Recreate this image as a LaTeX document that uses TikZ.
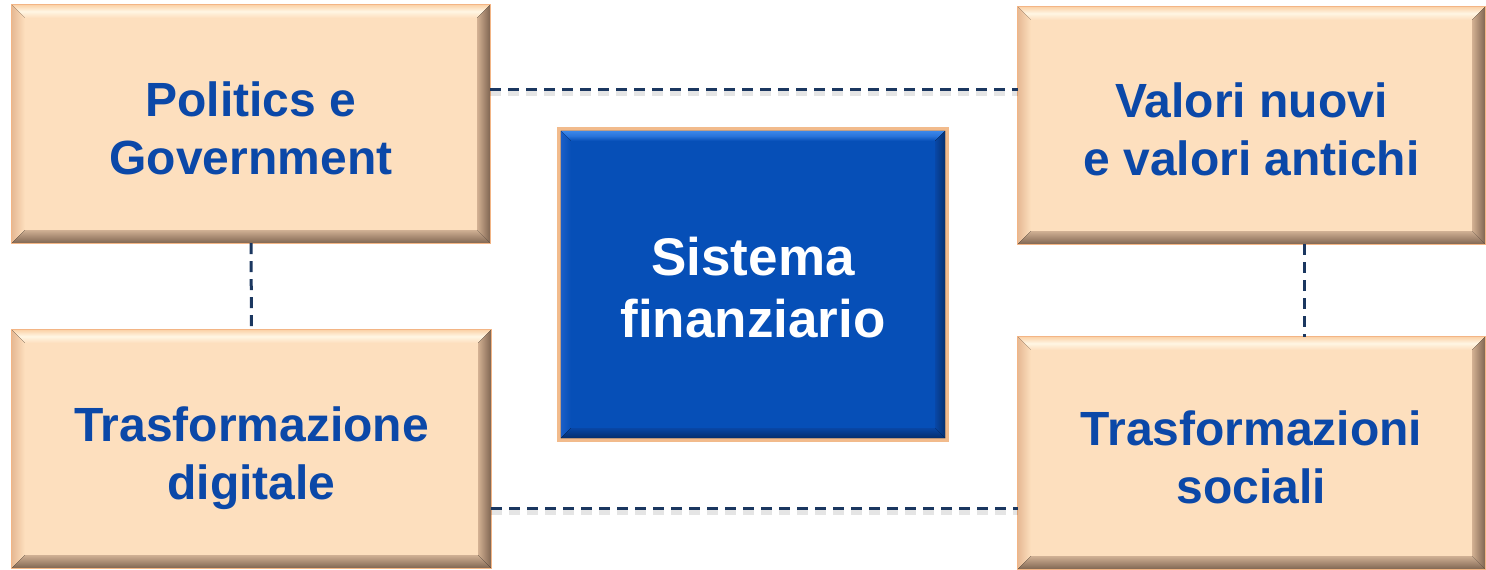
\documentclass[tikz,border=0pt]{standalone}
\usepackage{fontspec}
\setmainfont{Liberation Sans}
\usetikzlibrary{calc}

\definecolor{peachface}{HTML}{FDDFBE}
\definecolor{peachtop}{HTML}{FBD2A8}
\definecolor{peachshine}{HTML}{FFF6E4}
\definecolor{peachleft}{HTML}{E6B994}
\definecolor{peachright}{HTML}{7E6451}
\definecolor{peachrightin}{HTML}{D2B092}
\definecolor{peachbottom}{HTML}{806652}
\definecolor{peachbottomin}{HTML}{CFAF93}
\definecolor{peachedge}{HTML}{F3B585}
\definecolor{blueface}{HTML}{064FB7}
\definecolor{bluetop}{HTML}{3C88EA}
\definecolor{blueshine}{HTML}{2A74DA}
\definecolor{blueleft}{HTML}{1A5FC8}
\definecolor{blueright}{HTML}{06306F}
\definecolor{bluerightin}{HTML}{0847A6}
\definecolor{bluebottom}{HTML}{052E6C}
\definecolor{bluebottomin}{HTML}{0846A4}
\definecolor{blueedge}{HTML}{F2BB8C}
\definecolor{textblue}{HTML}{0B48A8}
\definecolor{linknavy}{HTML}{1B3760}

% bevel round a named node: node, width, colour set
\newcommand{\bevel}[3]{%
  \fill[top color=#3top, bottom color=#3face, middle color=#3shine]
    (#1.north west) -- (#1.north east) -- ([xshift=-#2,yshift=-#2]#1.north east) -- ([xshift=#2,yshift=-#2]#1.north west) -- cycle;
  \fill[left color=#3left, right color=#3face]
    (#1.north west) -- ([xshift=#2,yshift=-#2]#1.north west) -- ([xshift=#2,yshift=#2]#1.south west) -- (#1.south west) -- cycle;
  \fill[left color=#3rightin, right color=#3right]
    (#1.north east) -- (#1.south east) -- ([xshift=-#2,yshift=#2]#1.south east) -- ([xshift=-#2,yshift=-#2]#1.north east) -- cycle;
  \fill[top color=#3bottomin, bottom color=#3bottom]
    (#1.south west) -- ([xshift=#2,yshift=#2]#1.south west) -- ([xshift=-#2,yshift=#2]#1.south east) -- (#1.south east) -- cycle;
}

\tikzset{
  peachbox/.style={rectangle, fill=peachface, inner sep=0pt, align=center, text=textblue,
    text height=100pt, text depth=0pt, font=\bfseries\fontsize{48}{58}\selectfont},
  bluebox/.style={rectangle, fill=blueface, inner sep=0pt, align=center, text=white,
    text height=105pt, text depth=0pt, font=\bfseries\fontsize{53}{62}\selectfont},
  link/.style={draw=linknavy, line width=3pt, dash pattern=on 11pt off 7pt},
  linkshade/.style={draw=black, opacity=0.10, line width=5pt, dash pattern=on 11pt off 7pt}
}

\begin{document}
\begin{tikzpicture}[x=1pt, y=-1pt]
  \useasboundingbox[fill=white] (0,0) rectangle (1486,570);

  \node[peachbox, minimum width=478pt, minimum height=238pt] (pol) at (251,124) {Politics e\\Government};
  \node[peachbox, minimum width=479pt, minimum height=238pt] (dig) at (251.5,449) {Trasformazione\\digitale};
  \node[peachbox, minimum width=467pt, minimum height=237pt] (val) at (1251.5,125.5) {Valori nuovi\\e valori antichi};
  \node[peachbox, minimum width=467pt, minimum height=232pt] (soc) at (1251.5,453) {Trasformazioni\\sociali};

  \foreach \n in {pol, dig, val, soc} {
    \bevel{\n}{13pt}{peach}
    \draw[peachedge, line width=1.2pt] (\n.north west) rectangle (\n.south east);
  }

  % centre box with thin peach frame
  \fill[blueedge] (557,127) rectangle (949,442);
  \node[bluebox, minimum width=384pt, minimum height=307pt] (sis) at (753,284.5) {Sistema\\finanziario};
  \bevel{sis}{10pt}{blue}

  % links
  \draw[linkshade] ([yshift=31pt]pol.east) -- ([yshift=31pt]pol.east -| val.west);
  \draw[link] ([yshift=35pt]pol.east) -- ([yshift=35pt]pol.east -| val.west);
  \draw[linkshade] ([yshift=-63pt]dig.east) -- ([yshift=-63pt]dig.east -| soc.west);
  \draw[link] ([yshift=-59pt]dig.east) -- ([yshift=-59pt]dig.east -| soc.west);
  \draw[link] (pol.south) -- (dig.north);
  \draw[link] ([xshift=53pt]val.south) -- ([xshift=53pt]val.south |- soc.north);
\end{tikzpicture}
\end{document}
